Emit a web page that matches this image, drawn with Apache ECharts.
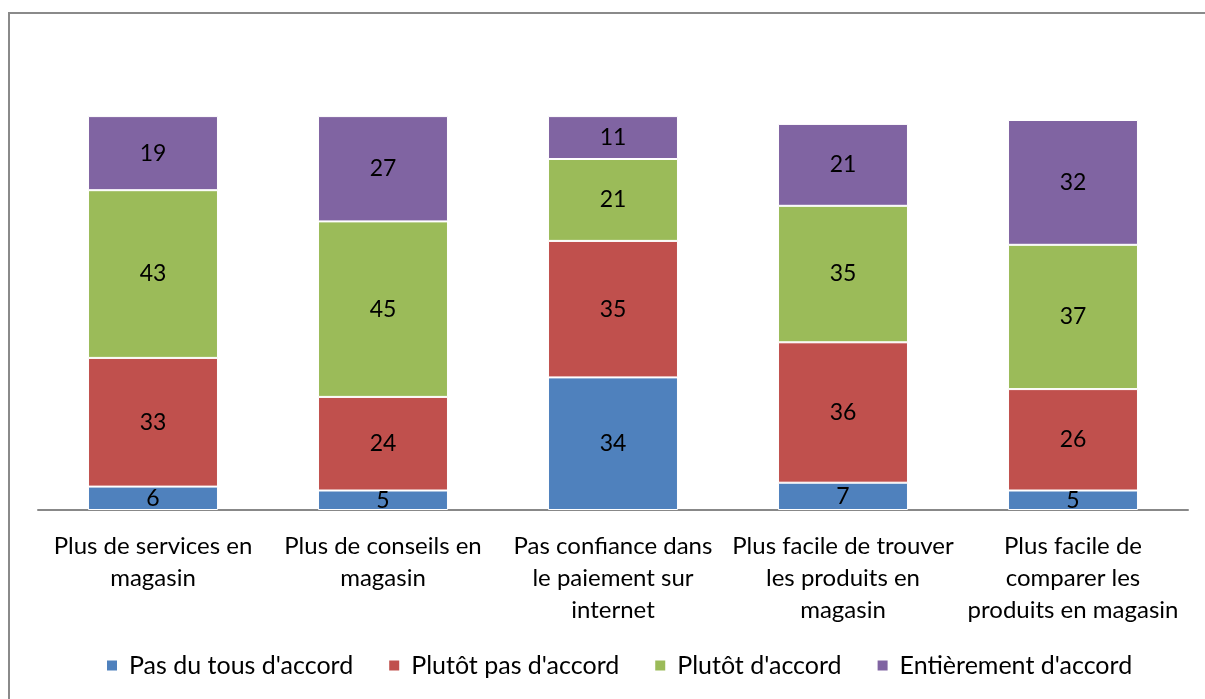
<!DOCTYPE html>
<html>
<head>
<meta charset="utf-8">
<script src="https://cdn.jsdelivr.net/npm/echarts@6/dist/echarts.min.js"></script>
<style>
  html, body { margin: 0; padding: 0; background: #fff; }
  #chart { width: 1205px; height: 699px; }
</style>
</head>
<body>
<div id="chart"></div>
<script>
// categories (with line breaks as in the original)
var categories = [
  'Plus de services en\nmagasin',
  'Plus de conseils en\nmagasin',
  'Pas confiance dans\nle paiement sur\ninternet',
  'Plus facile de trouver\nles produits en\nmagasin',
  'Plus facile de\ncomparer les\nproduits en magasin'
]
var pasDuTout = [6, 5, 34, 7, 5]
var plutotPas = [33, 24, 35, 36, 26]
var plutot = [43, 45, 21, 35, 37]
var entierement = [19, 27, 11, 21, 32]

var seriesNames = ["Pas du tous d'accord", "Plutôt pas d'accord", "Plutôt d'accord", "Entièrement d'accord"]
var colors = ['#4f81bd', '#c0504d', '#9bbb59', '#8064a2']
var FONT = 'Lato'

function makeSeries(name, data, color) {
  return {
    name: name,
    type: 'bar',
    stack: 'total',
    barWidth: '56.5%',
    data: data,
    itemStyle: { color: color, borderColor: '#fff', borderWidth: 1 },
    label: {
      show: true,
      position: 'inside',
      color: '#000',
      fontFamily: FONT,
      fontSize: 23
    },
    animation: false
  }
}

var chart = echarts.init(document.getElementById('chart'))
chart.setOption({
  animation: false,
  textStyle: { fontFamily: FONT },
  graphic: [{
    type: 'rect',
    shape: { x: 9, y: 13, width: 1210, height: 700 },
    style: { fill: 'none', stroke: '#8a8a8a', lineWidth: 2 }
  }],
  grid: { left: 38, right: 17, top: 42, bottom: 189, containLabel: false },
  legend: {
    bottom: 16,
    left: 100,
    itemWidth: 12,
    itemHeight: 12,
    itemGap: 34,
    icon: 'rect',
    textStyle: { fontFamily: FONT, fontSize: 25, color: '#000', padding: [0, 0, 0, 6] },
    data: seriesNames
  },
  xAxis: {
    type: 'category',
    data: categories,
    axisLine: { lineStyle: { color: '#888', width: 2 } },
    axisTick: { show: false },
    axisLabel: {
      interval: 0,
      margin: 20,
      color: '#000',
      fontFamily: FONT,
      fontSize: 24,
      lineHeight: 32
    }
  },
  yAxis: {
    type: 'value',
    min: 0,
    max: 120,
    show: false,
    splitLine: { show: false }
  },
  series: [
    makeSeries(seriesNames[0], pasDuTout, colors[0]),
    makeSeries(seriesNames[1], plutotPas, colors[1]),
    makeSeries(seriesNames[2], plutot, colors[2]),
    makeSeries(seriesNames[3], entierement, colors[3])
  ]
})
</script>
</body>
</html>
